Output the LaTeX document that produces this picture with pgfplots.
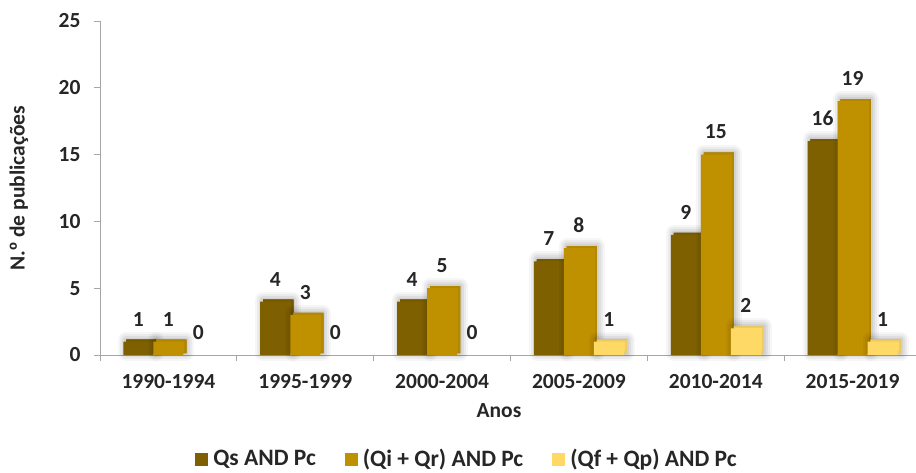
\documentclass[border=0pt]{standalone}
\usepackage{pgfplots}
\pgfplotsset{compat=1.18}
\usepackage{fontspec}
\setmainfont{Carlito}
\newfontfamily\lib{Liberation Sans}
\definecolor{cA}{HTML}{7F6000}
\definecolor{cB}{HTML}{BF9000}
\definecolor{cC}{HTML}{FFD966}
\definecolor{txt}{HTML}{262626}
\definecolor{axg}{HTML}{A6A6A6}
\tikzset{barshadow/.style={
  preaction={draw=black, line width=16pt, line join=round, draw opacity=0.035, transform canvas={xshift=3pt,yshift=2pt}},
  preaction={draw=black, line width=12pt, line join=round, draw opacity=0.045, transform canvas={xshift=3pt,yshift=2pt}},
  preaction={draw=black, line width=8pt, line join=round, draw opacity=0.055, transform canvas={xshift=3pt,yshift=2pt}},
  preaction={draw=black, line width=4pt, line join=round, draw opacity=0.06, transform canvas={xshift=3pt,yshift=2pt}}
}}
\newcommand{\bigf}{\fontsize{21.5}{25}\selectfont\bfseries}
\begin{document}
\begin{tikzpicture}[font=\bigf]
\begin{axis}[
  scale only axis,
  width=821pt, height=334pt,
  xmin=-0.5, xmax=5.5, ymin=0, ymax=25,
  axis x line*=bottom, axis y line*=left,
  axis line style={draw=axg, line width=0.8pt},
  ytick={0,5,...,25},
  xtick={0,...,5},
  xticklabels={1990-1994,1995-1999,2000-2004,2005-2009,2010-2014,2015-2019},
  minor xtick={-0.5,0.5,1.5,2.5,3.5,4.5,5.5},
  tick align=outside,
  major tick length=6pt, minor tick length=6pt,
  major x tick style={draw=none},
  minor x tick style={draw=axg, line width=0.8pt},
  y tick style={draw=axg, line width=0.8pt},
  tick label style={text=txt, font=\bigf},
  xticklabel style={yshift=-10pt},
  yticklabel style={xshift=-10pt},
  /pgf/number format/assume math mode=true,
  ybar, bar width=30pt,
  nodes near coords,
  every node near coord/.append style={text=txt, font=\bigf, yshift=12pt},
  every axis x label/.style={at={(axis description cs:0.486,0)}, anchor=center, yshift=-56pt, text=txt, font=\bigf},
  every axis y label/.style={at={(axis description cs:0,0.5)}, xshift=-81pt, rotate=90, anchor=center, text=txt, font=\bigf},
  xlabel={Anos},
  ylabel={N.{\lib º} de publicações},
  legend columns=3,
  legend style={at={(axis description cs:0.447,0)}, anchor=center, yshift=-104pt, draw=none, fill=none,
    text=txt, font=\fontsize{23.5}{27}\selectfont\bfseries,
    /tikz/every odd column/.append style={column sep=3pt},
    /tikz/every even column/.append style={column sep=27pt}},
  legend image code/.code={\fill[#1] (0pt,-6.5pt) rectangle (13pt,6.5pt);},
  clip=false,
]
\addplot[fill=cA, draw=none, bar shift=-30pt, barshadow, forget plot] coordinates {(0,1) (1,4) (2,4) (3,7) (4,9) (5,16)};
\addplot[fill=cB, draw=none, bar shift=0pt, barshadow, forget plot] coordinates {(0,1) (1,3) (2,5) (3,8) (4,15) (5,19)};
\addplot[fill=cC, draw=none, bar shift=30pt, barshadow, forget plot] coordinates {(3,1) (4,2) (5,1)};
\addplot[fill=none, draw=none, bar shift=30pt, forget plot] coordinates {(0,0) (1,0) (2,0)};
\addlegendimage{fill=cA, draw=none}
\addlegendentry{Qs AND Pc}
\addlegendimage{fill=cB, draw=none}
\addlegendentry{(Qi + Qr) AND Pc}
\addlegendimage{fill=cC, draw=none}
\addlegendentry{(Qf + Qp) AND Pc}
\end{axis}
\pgfresetboundingbox
\path (-100pt,-117pt) rectangle (816pt,355pt);
\end{tikzpicture}
\end{document}
